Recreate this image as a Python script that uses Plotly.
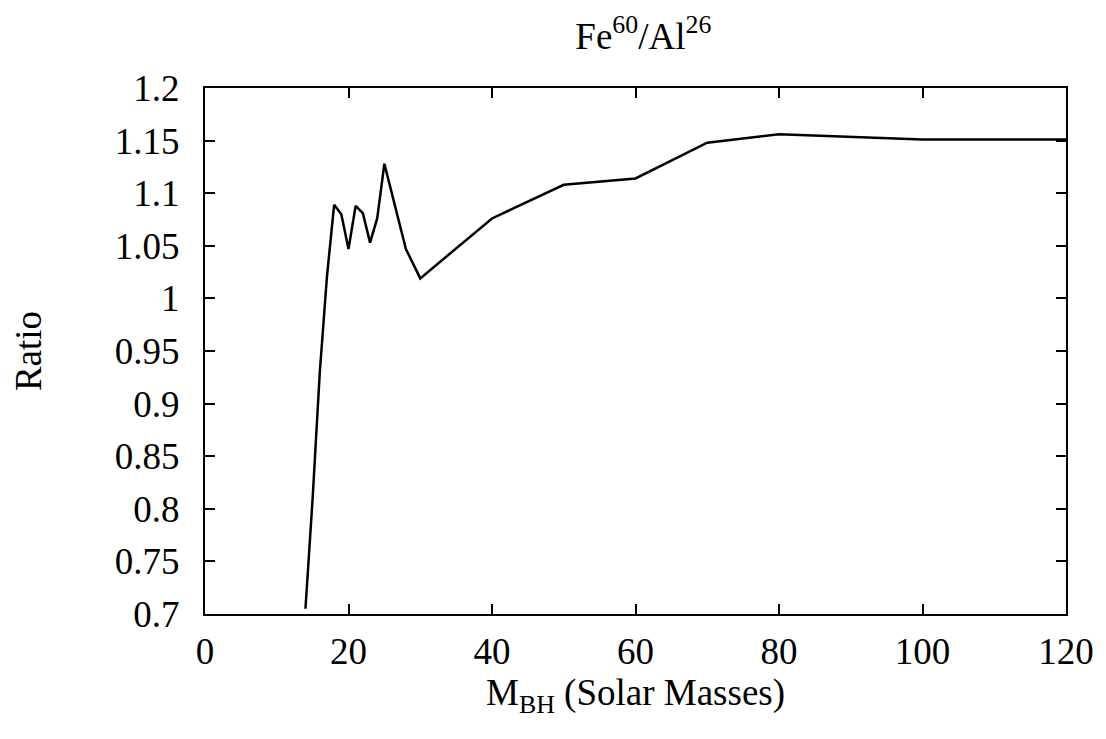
import plotly.graph_objects as go

mass = [14, 15, 16, 17, 18, 19, 20, 21, 22, 23, 24, 25, 28, 30, 40, 50, 60, 70, 80, 100, 120]
ratio = [0.705, 0.81, 0.93, 1.021, 1.089, 1.080, 1.047, 1.088, 1.081, 1.053, 1.076, 1.128,
         1.047, 1.019, 1.076, 1.108, 1.114, 1.148, 1.156, 1.151, 1.151]

x_ticks = [0, 20, 40, 60, 80, 100, 120]
y_ticks = [0.7, 0.75, 0.8, 0.85, 0.9, 0.95, 1.0, 1.05, 1.1, 1.15, 1.2]
y_labels = ["0.7", "0.75", "0.8", "0.85", "0.9", "0.95", "1", "1.05", "1.1", "1.15", "1.2"]

FONT = "Liberation Serif, Times New Roman, serif"
FS = 37

fig = go.Figure()
fig.add_trace(go.Scatter(x=mass, y=ratio, mode="lines",
                         line=dict(color="black", width=2.5), showlegend=False))

fig.update_layout(
    width=1106, height=739,
    paper_bgcolor="white", plot_bgcolor="white",
    margin=dict(l=197, r=48, t=80, b=133),
    font=dict(family=FONT, size=FS, color="black"),
    title=dict(text="Fe<sup>60</sup>/Al<sup>26</sup>", x=0.5745, xanchor="center",
               y=0.962, yanchor="middle", font=dict(family=FONT, size=FS, color="black")),
)
fig.update_xaxes(range=[0, 120], tickvals=x_ticks, ticks="inside", ticklen=10,
                 tickwidth=1.5, tickcolor="black", mirror="ticks", showline=True,
                 linecolor="black", linewidth=2, showgrid=False, zeroline=False,
                 ticklabelstandoff=4,
                 title=dict(text="M<sub>BH</sub> (Solar Masses)", standoff=0,
                            font=dict(family=FONT, size=FS, color="black")),
                 tickfont=dict(family=FONT, size=FS, color="black"))
fig.update_yaxes(range=[0.7, 1.2], tickvals=y_ticks, ticktext=y_labels, ticks="inside",
                 ticklen=10, tickwidth=1.5, tickcolor="black", mirror="ticks",
                 showline=True, linecolor="black", linewidth=2, showgrid=False,
                 zeroline=False, ticklabelstandoff=16,
                 title=dict(text="Ratio", standoff=64,
                            font=dict(family=FONT, size=FS, color="black")),
                 tickfont=dict(family=FONT, size=FS, color="black"))

fig.write_html("out.html")
